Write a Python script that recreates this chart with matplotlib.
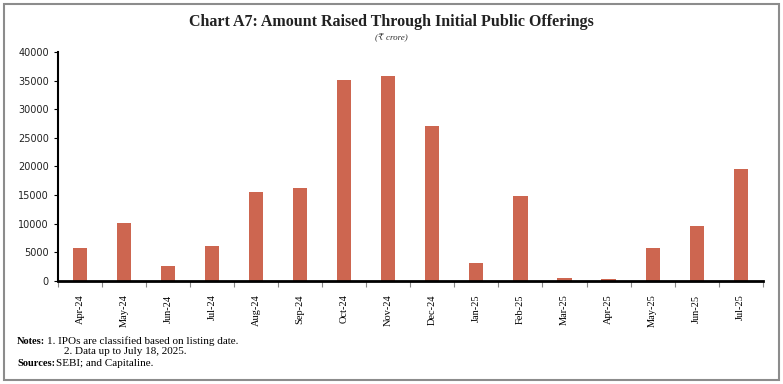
import matplotlib.pyplot as plt
from matplotlib.patches import Rectangle

months = ["Apr-24", "May-24", "Jun-24", "Jul-24", "Aug-24", "Sep-24", "Oct-24", "Nov-24",
          "Dec-24", "Jan-25", "Feb-25", "Mar-25", "Apr-25", "May-25", "Jun-25", "Jul-25"]
amount = [5700, 10150, 2500, 6050, 15500, 16300, 35100, 35800,
          27000, 3050, 14750, 470, 250, 5720, 9500, 19600]
yticks = [0, 5000, 10000, 15000, 20000, 25000, 30000, 35000, 40000]

serif = ["Liberation Serif", "DejaVu Serif"]
bar_color = "#CD6650"

fig = plt.figure(figsize=(7.83, 3.84), dpi=100)
ax = fig.add_axes([58 / 783, 1 - 280.7 / 384, (762.7 - 58) / 783, (280.7 - 52) / 384])

x = list(range(len(months)))
ax.bar(x, amount, width=0.32, color=bar_color)

ax.set_xlim(-0.5, len(months) - 0.5)
ax.set_ylim(0, 40000)
ax.set_yticks(yticks)
ax.set_yticklabels([str(v) for v in yticks], fontsize=7, family="DejaVu Sans", color="#222222")
ax.set_xticks(x)
ax.set_xticklabels(months, rotation=90, fontsize=7.5, family=serif)
ax.tick_params(axis="x", length=0, pad=10)
ax.set_xticks([i + 0.5 for i in range(-1, len(months))], minor=True)
ax.tick_params(axis="x", which="minor", length=4, width=0.8, color="#888888", direction="out")
ax.tick_params(axis="y", length=3, width=0.8, direction="out")

for s in ["top", "right"]:
    ax.spines[s].set_visible(False)
ax.spines["bottom"].set_linewidth(2)
ax.spines["left"].set_linewidth(1.5)

fig.text(0.5, 1 - 22 / 384, "Chart A7: Amount Raised Through Initial Public Offerings",
         ha="center", va="center", fontsize=11.5, fontweight="bold", family=serif, color="#222222")
fig.text(0.5, 1 - 38 / 384, "(₹ crore)", ha="center", va="center", fontsize=6.5,
         style="italic", family=serif + ["DejaVu Sans"], color="#333333")

fig.text(17 / 783, 1 - 341 / 384, "Notes:", fontsize=7.5, fontweight="bold", family=serif, va="center")
fig.text(47 / 783, 1 - 341 / 384, "1. IPOs are classified based on listing date.", fontsize=8, family=serif, va="center")
fig.text(64 / 783, 1 - 352 / 384, "2. Data up to July 18, 2025.", fontsize=8, family=serif, va="center")
fig.text(17 / 783, 1 - 363 / 384, "Sources:", fontsize=7.5, fontweight="bold", family=serif, va="center")
fig.text(56 / 783, 1 - 363 / 384, "SEBI; and Capitaline.", fontsize=8, family=serif, va="center")

fig.patches.append(Rectangle((4 / 783, 4 / 384), 775 / 783, 376 / 384, transform=fig.transFigure,
                             fill=False, edgecolor="#8c8c8c", linewidth=1.5))

fig.savefig("out.png", dpi=100)
